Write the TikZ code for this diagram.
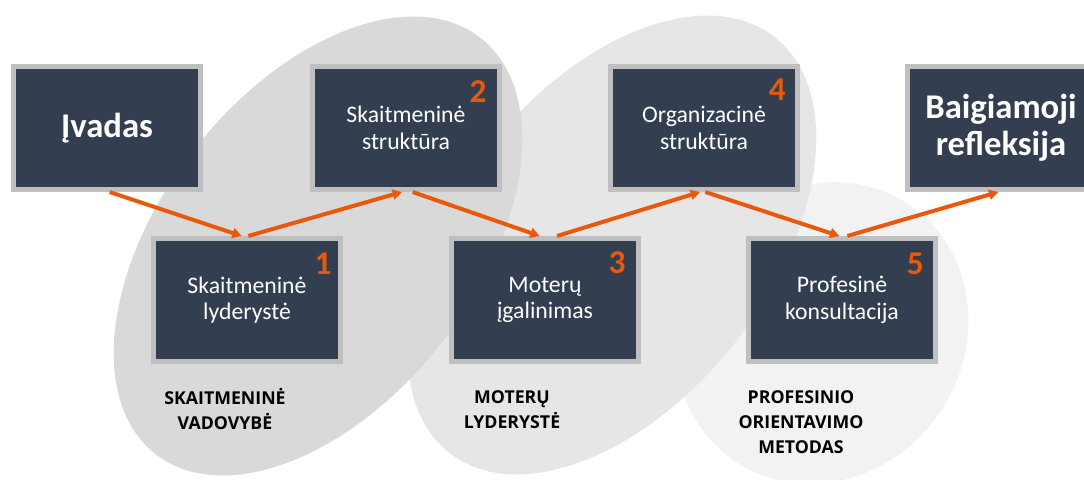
\documentclass[tikz,border=0pt]{standalone}
\usepackage{fontspec}
\setmainfont{Carlito}
\newfontfamily\labelfont{Open Sans}
\usetikzlibrary{arrows.meta}
\definecolor{boxfill}{HTML}{333F50}
\definecolor{boxline}{HTML}{BFBFBF}
\definecolor{accent}{HTML}{E8590C}
\definecolor{ellA}{HTML}{D9D9D9}
\definecolor{ellB}{HTML}{E6E6E6}
\definecolor{ellC}{HTML}{F2F2F2}
\begin{document}
\begin{tikzpicture}[x=0.75pt,y=-0.75pt,
  stage/.style={draw=boxline, line width=3.75pt, fill=boxfill,
    minimum width=140.25pt, minimum height=92.25pt, inner sep=0pt,
    text=white, align=center, font=\fontsize{17.8}{20}\selectfont},
  bigstage/.style={stage, font=\fontsize{26}{27.75}\selectfont\bfseries},
  num/.style={text=accent, inner sep=0pt, font=\fontsize{25}{25}\selectfont\bfseries},
  lbl/.style={align=center, inner sep=0pt, text=black,
    font=\labelfont\fontsize{13.3}{18.75}\selectfont\bfseries},
  flow/.style={draw=accent, line width=3pt,
    -{Triangle[length=7pt,width=7.5pt]}}]
\useasboundingbox (0,0) rectangle (1084,479);
\clip (0,0) rectangle (1084,479);

% background ellipses
\fill[ellC, rotate around={55:(822,333)}] (822,333) ellipse [x radius=155, y radius=142];
\fill[ellB, rotate around={52:(612,245)}] (612,245) ellipse [x radius=264, y radius=157];
\fill[ellA, rotate around={52:(318,246)}] (318,246) ellipse [x radius=264, y radius=157];

% stages
\node[bigstage] (b0) at (107,128) {Įvadas};
\node[stage] (b1) at (247,300) {Skaitmeninė\\lyderystė};
\node[stage] (b2) at (406,128) {Skaitmeninė\\struktūra};
\node[stage] (b3) at (545,300) {Moterų\\įgalinimas};
\node[stage] (b4) at (704,128) {Organizacinė\\struktūra};
\node[stage] (b5) at (842,300) {Profesinė\\konsultacija};
\node[bigstage] (b6) at (1001,128) {Baigiamoji\\refleksija};

% numbers
\node[num] (n1) at ([xshift=-15pt,yshift=-21pt]b1.north east) {1};
\node[num] (n2) at ([xshift=-18pt,yshift=-21pt]b2.north east) {2};
\node[num] (n3) at ([xshift=-18pt,yshift=-20pt]b3.north east) {3};
\node[num] (n4) at ([xshift=-17pt,yshift=-19pt]b4.north east) {4};
\node[num] (n5) at ([xshift=-17pt,yshift=-21pt]b5.north east) {5};

% connectors
\draw[flow] ([xshift=2pt]b0.south) -- ([xshift=-4pt]b1.north);
\draw[flow] ([xshift=1pt]b1.north) -- ([xshift=-3pt]b2.south);
\draw[flow] ([xshift=5pt]b2.south) -- ([xshift=-4pt]b3.north);
\draw[flow] ([xshift=9pt]b3.north) -- ([xshift=-3pt]b4.south);
\draw[flow] ([xshift=1pt]b4.south) -- ([xshift=-2pt]b5.north);
\draw[flow] ([xshift=4pt]b5.north) -- ([xshift=-2pt]b6.south);

% group labels
\node[lbl] (l1) at (225,409) {SKAITMENINĖ\\VADOVYBĖ};
\node[lbl] (l2) at (512,410) {MOTERŲ\\LYDERYSTĖ};
\node[lbl] (l3) at (801,422) {PROFESINIO\\ORIENTAVIMO\\METODAS};
\end{tikzpicture}
\end{document}
